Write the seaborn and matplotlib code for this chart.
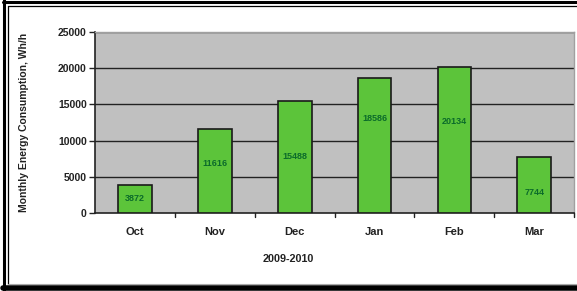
import matplotlib
matplotlib.use("Agg")
import matplotlib.pyplot as plt
import seaborn as sns
import pandas as pd
from matplotlib.lines import Line2D

months = ["Oct", "Nov", "Dec", "Jan", "Feb", "Mar"]
values = [3872, 11616, 15488, 18586, 20134, 7744]
yticks = [0, 5000, 10000, 15000, 20000, 25000]

# where each value label sits inside its bar (fraction of bar height)
label_frac = [0.53, 0.59, 0.50, 0.70, 0.63, 0.37]

sns.set_theme(style="white")
plt.rcParams['font.family'] = ['Liberation Sans', 'DejaVu Sans']

df = pd.DataFrame({"month": months, "value": values})

fig = plt.figure(figsize=(5.77, 2.91), dpi=100)
ax = fig.add_axes([0.165, 0.268, 0.830, 0.622])
ax.set_facecolor("#c0c0c0")
sns.barplot(data=df, x="month", y="value", color="#5cc43a", edgecolor="#1a1a1a",
            linewidth=1.2, width=0.42, saturation=1, ax=ax, zorder=3)
ax.set_ylim(0, 25000)
ax.set_xlim(-0.5, 5.5)
ax.set_yticks(yticks)
ax.set_yticklabels([str(t) for t in yticks], fontsize=7.5, fontweight="bold", color="#222222")
for t in yticks[1:]:
    ax.axhline(t, color="#222222", lw=1.0, zorder=1)
ax.set_xticks(range(len(months)))
ax.set_xticklabels(months, fontsize=8, fontweight="bold", color="#222222")
ax.tick_params(axis="x", length=0, pad=10)
ax.tick_params(axis="y", length=4, width=1, color="#222222", pad=2, left=True)
for b in [0.5, 1.5, 2.5, 3.5, 4.5, 5.5]:
    ax.plot([b, b], [0, -600], color="#222222", lw=1, clip_on=False, zorder=5)
for i, v in enumerate(values):
    ax.text(i, v * label_frac[i], str(v), ha="center", va="center", fontsize=6.5,
            fontweight="bold", color="#0b6b2a", zorder=6)
ax.set_xlabel("")
fig.text(288 / 577, 1 - 259 / 291, "2009-2010", ha="center", va="center", fontsize=7.8,
         fontweight="bold", color="#222222")
ax.set_ylabel("Monthly Energy Consumption, Wh/h", fontsize=7.5, fontweight="bold",
              color="#222222")
ax.yaxis.set_label_coords((29 - 95) / (0.830 * 577), 0.5)
for s in ["left", "bottom"]:
    ax.spines[s].set_color("#222222")
    ax.spines[s].set_linewidth(1.2)
for s in ["top", "right"]:
    ax.spines[s].set_color("#a0a0a0")
    ax.spines[s].set_linewidth(1.0)

W, H = 577, 291
def hline(y, x0, x1, lw, c="black"):
    fig.add_artist(Line2D([x0 / W, x1 / W], [1 - y / H, 1 - y / H], transform=fig.transFigure,
                          color=c, lw=lw))
def vline(x, y0, y1, lw, c="black"):
    fig.add_artist(Line2D([x / W, x / W], [1 - y0 / H, 1 - y1 / H], transform=fig.transFigure,
                          color=c, lw=lw))
# top double border
hline(1.5, 3, 577, 2.2)
hline(5.5, 7.5, 577, 0.9)
# left double border
vline(4, 0, 291, 2.2)
vline(8, 5.5, 284, 0.9)
# bottom
hline(288, 3, 577, 4.0)
hline(283.5, 8, 577, 0.8, "#aaaaaa")
fig.savefig("out.png", dpi=100)
